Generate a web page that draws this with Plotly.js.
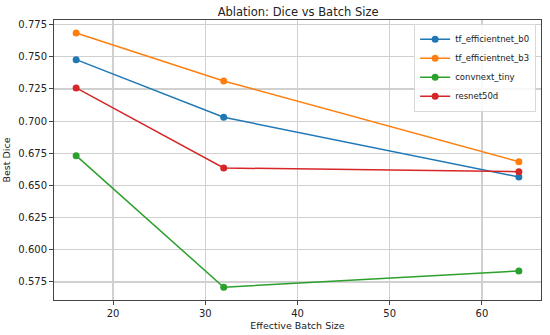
<!DOCTYPE html>
<html>
<head>
<meta charset="utf-8">
<script src="https://cdn.plot.ly/plotly-3.0.1.min.js"></script>
<style>html,body{margin:0;padding:0;background:#fff;}#chart{width:550px;height:335px;}</style>
</head>
<body>
<div id="chart"></div>
<script>
const batchSizes = [16, 32, 64];
const seriesNames = ["tf_efficientnet_b0", "tf_efficientnet_b3", "convnext_tiny", "resnet50d"];
const b0Dice = [0.7478, 0.7030, 0.6566];
const b3Dice = [0.7685, 0.7312, 0.6685];
const convnextDice = [0.6732, 0.5709, 0.5836];
const resnetDice = [0.7258, 0.6636, 0.6607];
const colors = ["#1f77b4", "#ff7f0e", "#2ca02c", "#d62728"];
const allValues = [b0Dice, b3Dice, convnextDice, resnetDice];
const xTicks = [20, 30, 40, 50, 60];
const yTicks = [0.575, 0.600, 0.625, 0.650, 0.675, 0.700, 0.725, 0.750, 0.775];

const traces = allValues.map((vals, i) => ({
  x: batchSizes, y: vals, name: seriesNames[i], type: "scatter", mode: "lines+markers",
  line: {color: colors[i], width: 1.5}, marker: {color: colors[i], size: 7}
}));

const font = {family: "DejaVu Sans, sans-serif", size: 10, color: "#222"};
const layout = {
  width: 550, height: 335,
  margin: {l: 54, r: 9, t: 20, b: 35},
  paper_bgcolor: "#fff", plot_bgcolor: "#fff",
  font: font,
  title: {text: "Ablation: Dice vs Batch Size", font: {family: font.family, size: 11.5, color: "#222"}, x: 0.542, xanchor: "center", y: 0.965, yanchor: "middle"},
  xaxis: {
    range: [13.6, 66.4], tickvals: xTicks, ticktext: xTicks.map(String),
    showgrid: true, gridcolor: "#d0d0d0", gridwidth: 1.2,
    showline: true, mirror: true, linecolor: "#444", linewidth: 1,
    ticks: "outside", ticklen: 4, tickcolor: "#444", zeroline: false,
    title: {text: "Effective Batch Size", font: {size: 9.5}, standoff: 4}
  },
  yaxis: {
    range: [0.5610, 0.7786], tickvals: yTicks, ticktext: yTicks.map(v => v.toFixed(3)),
    showgrid: true, gridcolor: "#d0d0d0", gridwidth: 1.2,
    showline: true, mirror: true, linecolor: "#444", linewidth: 1,
    ticks: "outside", ticklen: 4, tickcolor: "#444", zeroline: false,
    title: {text: "Best Dice", font: {size: 9.5}, standoff: 6}
  },
  legend: {
    x: 0.99, y: 0.987, xanchor: "right", yanchor: "top",
    bgcolor: "rgba(255,255,255,0.85)", bordercolor: "#d8d8d8", borderwidth: 1,
    font: {size: 8.5}, tracegroupgap: 0, itemwidth: 30
  },
  showlegend: true
};
Plotly.newPlot("chart", traces, layout, {displayModeBar: false, staticPlot: true});
</script>
</body>
</html>
